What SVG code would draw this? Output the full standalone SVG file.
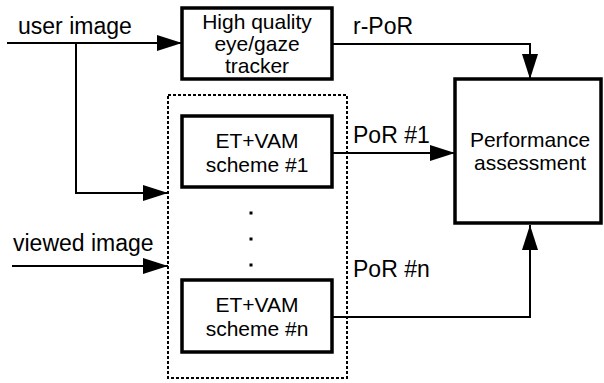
<svg xmlns="http://www.w3.org/2000/svg" width="604" height="383" viewBox="0 0 604 383">
<defs>
<marker id="arr" viewBox="0 0 25 16" refX="25" refY="8" markerWidth="25" markerHeight="16" markerUnits="userSpaceOnUse" orient="auto">
<path d="M0,0 L25,8 L0,16 Z" fill="#000"/>
</marker>
<style>
.box{fill:#fff;stroke:#000;stroke-width:3.5}
.bt{font-family:"Liberation Sans",Arial,sans-serif;font-size:21px;text-anchor:middle;fill:#000}
.lb{font-family:"Liberation Sans",Arial,sans-serif;font-size:23px;fill:#000}
.ln{fill:none;stroke:#000;stroke-width:2}
</style>
</defs>
<rect width="604" height="383" fill="#fff"/>
<g id="group-box">
<rect x="168" y="95" width="179" height="283" fill="none" stroke="#000" stroke-width="2" stroke-dasharray="3,2"/>
</g>
<g id="tracker">
<rect class="box" x="182" y="8" width="150" height="71"/>
<text class="bt" x="257" y="29">High quality</text>
<text class="bt" x="257" y="51">eye/gaze</text>
<text class="bt" x="257" y="73">tracker</text>
</g>
<g id="scheme1">
<rect class="box" x="182" y="116" width="150" height="71"/>
<text class="bt" x="257" y="148">ET+VAM</text>
<text class="bt" x="257" y="172">scheme #1</text>
</g>
<g id="dots">
<rect x="249.5" y="211.5" width="3" height="3" fill="#000"/>
<rect x="249.5" y="237.5" width="3" height="3" fill="#000"/>
<rect x="249.5" y="263.5" width="3" height="3" fill="#000"/>
</g>
<g id="schemen">
<rect class="box" x="182" y="280" width="150" height="72"/>
<text class="bt" x="257" y="312">ET+VAM</text>
<text class="bt" x="257" y="336">scheme #n</text>
</g>
<g id="performance">
<rect class="box" x="455" y="79" width="146" height="144"/>
<text class="bt" x="530" y="147">Performance</text>
<text class="bt" x="530" y="170">assessment</text>
</g>
<g id="connectors">
<path class="ln" d="M7,43 H182" marker-end="url(#arr)"/>
<path class="ln" d="M76,43 V193 H168" marker-end="url(#arr)"/>
<path class="ln" d="M12,266 H168" marker-end="url(#arr)"/>
<path class="ln" d="M332,44 H530 V79" marker-end="url(#arr)"/>
<path class="ln" d="M332,153 H455" marker-end="url(#arr)"/>
<path class="ln" d="M332,317 H530 V225" marker-end="url(#arr)"/>
</g>
<g id="labels">
<text class="lb" x="18" y="34">user image</text>
<text class="lb" x="13" y="251">viewed image</text>
<text class="lb" x="353" y="34">r-PoR</text>
<text class="lb" x="353" y="143">PoR #1</text>
<text class="lb" x="353" y="277">PoR #n</text>
</g>
</svg>
